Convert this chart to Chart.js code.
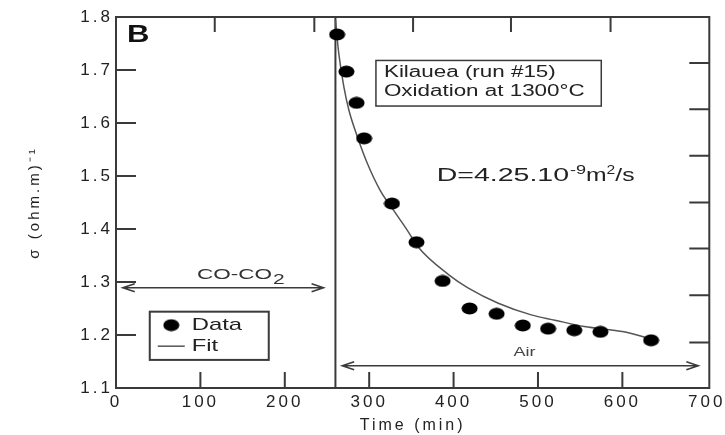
<!DOCTYPE html>
<html>
<head>
<meta charset="utf-8">
<script src="https://cdn.jsdelivr.net/npm/chart.js@4.4.0/dist/chart.umd.min.js"></script>
<style>
  html, body { margin: 0; padding: 0; background: #fff; }
</style>
</head>
<body>
<canvas id="chart" width="725" height="435"></canvas>
<script>
// measured points (time in min, conductivity)
const timeData = [262, 273, 285, 294, 327, 356, 387, 419, 451, 482, 512, 543, 574, 634];
const sigmaData = [1.767, 1.697, 1.638, 1.571, 1.448, 1.375, 1.302, 1.250, 1.240, 1.218, 1.212, 1.209, 1.206, 1.190];

// diffusion fit curve
const fitTime = [260, 264, 270, 276, 286, 298, 313, 329, 345, 358, 394, 417, 453, 492, 520, 555, 602, 633];
const fitSigma = [1.794, 1.731, 1.668, 1.624, 1.574, 1.523, 1.473, 1.435, 1.398, 1.366, 1.314, 1.289, 1.260, 1.238, 1.228, 1.216, 1.206, 1.193];

// atmosphere switch CO-CO2 -> air
const switchTime = 260;

const xTicks = [0, 100, 200, 300, 400, 500, 600, 700];
const yTicks = [1.1, 1.2, 1.3, 1.4, 1.5, 1.6, 1.7, 1.8];
const topTicks = [117, 235, 352, 468, 586];
const rightTicks = [1.713, 1.626, 1.538, 1.450, 1.363, 1.275, 1.186];

const FONT = '"Liberation Sans", Arial, sans-serif';
const INK = '#3a3a3a';

// filled ellipse used as the data marker
function makeDot() {
  const c = document.createElement('canvas');
  c.width = 17; c.height = 13;
  const g = c.getContext('2d');
  g.fillStyle = '#000';
  g.beginPath();
  g.ellipse(8.5, 6.5, 8, 6, 0, 0, Math.PI * 2);
  g.fill();
  return c;
}
const dot = makeDot();

// stretched text, the original figure is wider than tall
function text(ctx, str, x, y, size, sx, opts = {}) {
  ctx.save();
  ctx.font = (opts.bold ? 'bold ' : '') + size + 'px ' + FONT;
  ctx.fillStyle = opts.color || '#222';
  ctx.textBaseline = opts.baseline || 'middle';
  ctx.textAlign = 'left';
  const w = ctx.measureText(str).width * sx;
  let x0 = x;
  if (opts.align === 'center') x0 = x - w / 2;
  ctx.translate(x0, y);
  ctx.scale(sx, 1);
  ctx.fillText(str, 0, 0);
  ctx.restore();
  return w;
}

function arrow(ctx, x1, x2, y) {
  ctx.save();
  ctx.strokeStyle = INK;
  ctx.lineWidth = 1.5;
  ctx.beginPath();
  ctx.moveTo(x1, y); ctx.lineTo(x2, y);
  ctx.moveTo(x1 + 12, y - 4); ctx.lineTo(x1, y); ctx.lineTo(x1 + 12, y + 4);
  ctx.moveTo(x2 - 12, y - 4); ctx.lineTo(x2, y); ctx.lineTo(x2 - 12, y + 4);
  ctx.stroke();
  ctx.restore();
}

const decorPlugin = {
  id: 'decor',
  beforeDraw(chart) {
    chart.ctx.save();
    chart.ctx.letterSpacing = '3px';
  },
  afterDraw(chart) {
    const ctx = chart.ctx;
    ctx.restore();
    ctx.letterSpacing = '0px';
    const { left, right, top, bottom } = chart.chartArea;
    const xs = chart.scales.x, ys = chart.scales.y;
    const px = v => xs.getPixelForValue(v);
    const py = v => ys.getPixelForValue(v);

    // frame + inward ticks
    ctx.save();
    ctx.strokeStyle = INK;
    ctx.lineWidth = 2;
    ctx.strokeRect(left, top, right - left, bottom - top);
    ctx.beginPath();
    yTicks.slice(1, -1).forEach(v => { ctx.moveTo(left, py(v)); ctx.lineTo(left + 20, py(v)); });
    xTicks.slice(1, -1).forEach(v => { ctx.moveTo(px(v), bottom); ctx.lineTo(px(v), bottom - 16); });
    topTicks.forEach(v => { ctx.moveTo(px(v), top); ctx.lineTo(px(v), top + 15); });
    rightTicks.forEach(v => { ctx.moveTo(right, py(v)); ctx.lineTo(right - 20, py(v)); });
    ctx.stroke();
    ctx.restore();

    // panel letter
    text(ctx, 'B', px(13), py(1.764), 23, 1.35, { bold: true, color: '#111' });

    // atmosphere arrows
    arrow(ctx, px(8), px(246), py(1.289));
    const w1 = text(ctx, 'CO-CO', px(96), py(1.313), 15, 1.5, { color: '#333' });
    text(ctx, '2', px(96) + w1 + 1, py(1.313) + 5, 15, 1.4, { color: '#333' });
    arrow(ctx, px(268), px(690), py(1.142));
    text(ctx, 'Air', px(484), py(1.167), 12, 1.5, { align: 'center', color: '#444' });

    // sample label box
    const bx1 = px(308), bx2 = px(575), by1 = py(1.718), by2 = py(1.632);
    ctx.save();
    ctx.strokeStyle = INK; ctx.lineWidth = 1.5;
    ctx.strokeRect(bx1, by1, bx2 - bx1, by2 - by1);
    ctx.restore();
    text(ctx, 'Kilauea (run #15)', bx1 + 8, by1 + 12, 16, 1.4);
    text(ctx, 'Oxidation at 1300°C', bx1 + 8, by1 + 31, 16, 1.4);

    // diffusion coefficient
    let x = px(380);
    const y = py(1.501);
    x += text(ctx, 'D=4.25.10', x, y, 19, 1.5);
    x += text(ctx, '-9', x + 1, y - 5, 12, 1.5) + 1;
    x += text(ctx, 'm', x, y, 19, 1.3);
    x += text(ctx, '2', x, y - 5, 12, 1.3);
    text(ctx, '/s', x, y, 19, 1.3);

    // legend
    const lx1 = px(40), lx2 = px(181), ly1 = py(1.244), ly2 = py(1.153);
    ctx.save();
    ctx.strokeStyle = INK; ctx.lineWidth = 2;
    ctx.strokeRect(lx1, ly1, lx2 - lx1, ly2 - ly1);
    ctx.drawImage(dot, lx1 + 21.5 - 8.5, ly1 + 13.5 - 6.5);
    ctx.strokeStyle = '#555'; ctx.lineWidth = 1.5;
    ctx.beginPath(); ctx.moveTo(lx1 + 8, ly1 + 34.5); ctx.lineTo(lx1 + 35, ly1 + 34.5); ctx.stroke();
    ctx.restore();
    text(ctx, chart.data.datasets[0].label, lx1 + 42, ly1 + 13.5, 17, 1.4);
    text(ctx, chart.data.datasets[1].label, lx1 + 42, ly1 + 34.5, 17, 1.4);
  }
};

new Chart(document.getElementById('chart'), {
  type: 'scatter',
  data: {
    datasets: [
      {
        label: 'Data',
        data: timeData.map((t, i) => ({ x: t, y: sigmaData[i] })),
        pointStyle: dot,
        pointRadius: 7,
        order: 0
      },
      {
        label: 'Fit',
        data: fitTime.map((t, i) => ({ x: t, y: fitSigma[i] })),
        showLine: true,
        borderColor: '#555',
        borderWidth: 1.5,
        pointRadius: 0,
        cubicInterpolationMode: 'monotone',
        order: 1
      },
      {
        label: 'switch',
        data: [{ x: switchTime, y: 1.1 }, { x: switchTime, y: 1.8 }],
        showLine: true,
        borderColor: INK,
        borderWidth: 2,
        pointRadius: 0,
        order: 2
      }
    ]
  },
  options: {
    responsive: false,
    animation: false,
    devicePixelRatio: 1,
    layout: { padding: { left: 0, right: 12, top: 17, bottom: 0 } },
    plugins: {
      legend: { display: false },
      tooltip: { enabled: false }
    },
    scales: {
      x: {
        type: 'linear',
        min: 0,
        max: 703,
        afterBuildTicks: s => { s.ticks = xTicks.map(v => ({ value: v })); },
        afterFit: s => { s.height = 47; },
        grid: { display: false, drawTicks: false },
        border: { display: false },
        ticks: { padding: 4, color: '#222', font: { family: FONT, size: 17 }, maxRotation: 0 },
        title: { display: true, text: 'Time (min)', color: '#222', font: { family: FONT, size: 16 }, padding: 0 }
      },
      y: {
        type: 'linear',
        min: 1.1,
        max: 1.8,
        afterBuildTicks: s => { s.ticks = yTicks.map(v => ({ value: v })); },
        afterFit: s => { s.width = 116; },
        grid: { display: false, drawTicks: false },
        border: { display: false },
        ticks: { padding: 3, color: '#222', font: { family: FONT, size: 17 }, callback: v => v.toFixed(1) },
        title: { display: true, text: 'σ (ohm.m)⁻¹', color: '#222', font: { family: FONT, size: 15 }, padding: { top: 26, bottom: 0 } }
      }
    }
  },
  plugins: [decorPlugin]
});
</script>
</body>
</html>
